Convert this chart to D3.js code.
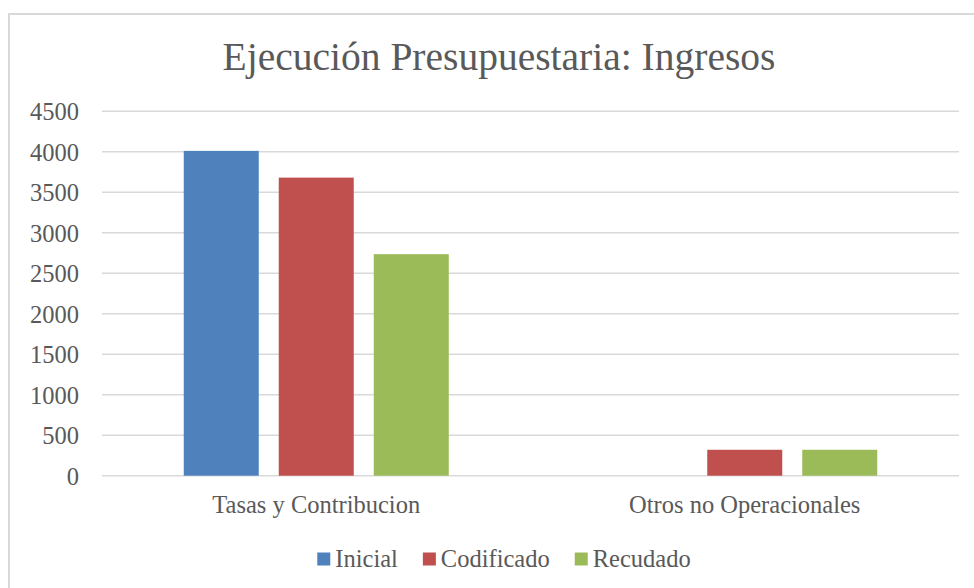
<!DOCTYPE html>
<html>
<head>
    <meta charset="utf-8">
    <title>Ejecución Presupuestaria: Ingresos</title>
    <script src="https://d3js.org/d3.v7.min.js"></script>
    <style>
        body {
            margin: 0;
            background: #fff;
        }
        svg text {
            font-family: "Liberation Serif", "Times New Roman", serif;
            fill: #595959;
        }
        .grid line {
            stroke: #d9d9d9;
            stroke-width: 1.5px;
        }
    </style>
</head>
<body>
    <div id="chart"></div>

    <script>
        // Data
        const categories = ['Tasas y Contribucion', 'Otros no Operacionales'];
        const seriesNames = ['Inicial', 'Codificado', 'Recudado'];
        const inicial = [4010, 0];
        const codificado = [3680, 320];
        const recudado = [2735, 320];
        const yTicks = [0, 500, 1000, 1500, 2000, 2500, 3000, 3500, 4000, 4500];
        const colors = ['#4f81bd', '#c0504d', '#9bbb59'];

        const values = [inicial, codificado, recudado];

        const width = 974;
        const height = 588;
        const plot = { left: 102, right: 959, top: 111.2, bottom: 475.7 };

        const svg = d3.select('#chart')
            .append('svg')
            .attr('width', width)
            .attr('height', height);

        // chart frame (runs off the right and bottom edge)
        svg.append('rect')
            .attr('x', 9)
            .attr('y', 14)
            .attr('width', 1000)
            .attr('height', 600)
            .attr('fill', 'none')
            .attr('stroke', '#d9d9d9')
            .attr('stroke-width', 2);

        const y = d3.scaleLinear()
            .domain([0, 4500])
            .range([plot.bottom, plot.top]);

        const x0 = d3.scaleBand()
            .domain(categories)
            .range([plot.left, plot.right])
            .padding(0);

        const x1 = d3.scaleBand()
            .domain(seriesNames)
            .range([0, x0.bandwidth()])
            .paddingInner(0.2105)
            .paddingOuter(0.8605);

        // gridlines
        svg.append('g')
            .attr('class', 'grid')
            .selectAll('line')
            .data(yTicks)
            .join('line')
            .attr('x1', plot.left)
            .attr('x2', plot.right)
            .attr('y1', d => y(d))
            .attr('y2', d => y(d));

        // y axis labels
        const yAxis = svg.append('g')
            .attr('transform', `translate(${plot.left - 23},0)`)
            .call(d3.axisLeft(y).tickValues(yTicks).tickFormat(d3.format('d')).tickSize(0).tickPadding(0));
        yAxis.select('.domain').remove();
        yAxis.selectAll('text')
            .attr('font-family', null)
            .style('font-size', '24.5px')
            .attr('dy', '0.34em');

        // bars
        const groups = svg.append('g')
            .selectAll('g')
            .data(categories)
            .join('g')
            .attr('transform', d => `translate(${x0(d)},0)`);

        groups.selectAll('rect')
            .data((d, i) => seriesNames.map((s, j) => ({ series: s, value: values[j][i], color: colors[j] })))
            .join('rect')
            .attr('x', d => x1(d.series))
            .attr('width', x1.bandwidth())
            .attr('y', d => y(d.value))
            .attr('height', d => y(0) - y(d.value))
            .attr('fill', d => d.color);

        // category labels
        const xAxis = svg.append('g')
            .attr('transform', 'translate(0,513)')
            .call(d3.axisBottom(x0).tickSize(0).tickPadding(0));
        xAxis.select('.domain').remove();
        xAxis.selectAll('text')
            .attr('font-family', null)
            .attr('dy', 0)
            .style('font-size', '24.5px');

        // title
        svg.append('text')
            .attr('x', 499)
            .attr('y', 70)
            .attr('text-anchor', 'middle')
            .style('font-size', '39.5px')
            .text('Ejecución Presupuestaria: Ingresos');

        // legend, centred under the chart
        const legend = svg.append('g');
        const items = legend.selectAll('g')
            .data(seriesNames)
            .join('g');
        items.append('rect')
            .attr('width', 13)
            .attr('height', 13)
            .attr('y', -14)
            .attr('fill', (d, i) => colors[i]);
        items.append('text')
            .attr('x', 18)
            .style('font-size', '24.5px')
            .text(d => d);

        let offset = 0;
        items.each(function() {
            const w = d3.select(this).select('text').node().getComputedTextLength();
            d3.select(this).attr('transform', `translate(${offset},0)`);
            offset += 18 + w + 25;
        });
        const legendWidth = offset - 25;
        legend.attr('transform', `translate(${504 - legendWidth / 2},566.5)`);
    </script>
</body>
</html>
